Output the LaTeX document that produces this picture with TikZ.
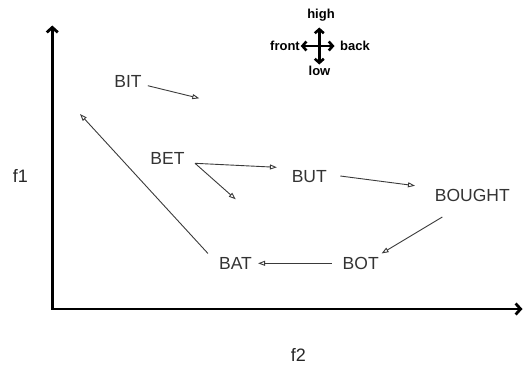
\documentclass[tikz,border=0pt]{standalone}
\usepackage{fontspec}
\setmainfont{Liberation Sans}
\usetikzlibrary{arrows.meta}
\definecolor{txt}{HTML}{333333}
\definecolor{arr}{HTML}{3A3A3A}
\begin{document}
\begin{tikzpicture}[x=1pt,y=-1pt,
  lbl/.style={inner sep=0pt,text height=12.5pt,text depth=0pt,text=txt,font=\fontsize{17.5}{20}\selectfont},
  axlbl/.style={inner sep=0pt,text=black!85,font=\fontsize{18}{20}\selectfont},
  cmp/.style={inner sep=0pt,font=\fontsize{13}{15}\selectfont\bfseries},
  vow/.style={draw=arr,line width=0.9pt,-{Triangle[open,length=7pt,width=5pt]}},
  axisline/.style={draw=black,line width=2.8pt,{Straight Barb[length=5pt,width=11pt]}-{Straight Barb[length=5pt,width=11pt]}},
  cmparrow/.style={draw=black,line width=2.6pt,{Straight Barb[length=4pt,width=9pt]}-{Straight Barb[length=4pt,width=9pt]}}]
\useasboundingbox (0,0) rectangle (523,365);
% axes
\coordinate (O) at (52.3,309);
\coordinate (ytip) at (52.3,25.5);
\coordinate (xtip) at (522.5,309);
\draw[axisline,line join=miter] (ytip) -- (O) -- (xtip);
\node[axlbl] (f1) at (20.5,176) {f1};
\node[axlbl] (f2) at (298.5,355) {f2};
% compass
\node[cmp] (high) at (321,15) {high};
\node[cmp] (low) at (319.5,71) {low};
\node[cmp] (front) at (285,45.5) {front};
\node[cmp] (back) at (355,45.5) {back};
\coordinate (ctop) at (319.3,27.5);
\coordinate (cbot) at (319.3,64.5);
\coordinate (cleft) at (300.7,46);
\coordinate (cright) at (334.5,46);
\draw[cmparrow] (ctop) -- (cbot);
\draw[cmparrow] (cleft) -- (cright);
% vowels
\node[lbl] (BIT) at (128,81) {BIT};
\node[lbl] (BET) at (167.5,158.7) {BET};
\node[lbl] (BUT) at (309.3,176.7) {BUT};
\node[lbl] (BOUGHT) at (472.3,195.5) {BOUGHT};
\node[lbl] (BAT) at (235.5,263.3) {BAT};
\node[lbl] (BOT) at (360.7,263.3) {BOT};
\coordinate (c1) at (199.3,98.3);
\coordinate (c2) at (235.7,199.3);
\coordinate (c3) at (80,114);
\draw[vow] ([shift={(6,4.7)}]BIT.east) -- (c1);
\draw[vow] ([shift={(10.3,4.6)}]BET.east) -- ([shift={(-14.7,-9.4)}]BUT.west);
\draw[vow] ([shift={(10.3,4.6)}]BET.east) -- (c2);
\draw[vow] ([shift={(13.3,-0.7)}]BUT.east) -- ([shift={(-19.7,-9.8)}]BOUGHT.west);
\draw[vow] ([shift={(7.7,15)}]BOUGHT.south west) -- ([shift={(2.7,-3.4)}]BOT.north east);
\draw[vow] ([shift={(-10.6,0)}]BOT.west) -- ([shift={(6,0)}]BAT.east);
\draw[vow] ([shift={(-11,-3.4)}]BAT.north west) -- (c3);
\end{tikzpicture}
\end{document}
